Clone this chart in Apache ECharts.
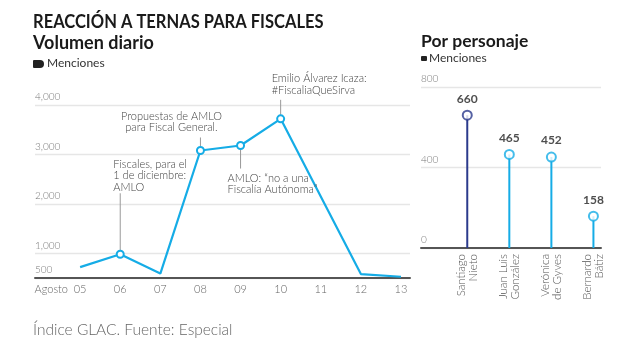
<!DOCTYPE html>
<html><head><meta charset="utf-8">
<script src="https://cdn.jsdelivr.net/npm/echarts@6/dist/echarts.min.js"></script>
<style>html,body{margin:0;padding:0;background:#fff}#c{width:622px;height:358px}</style>
</head><body><div id="c"></div>
<script>
// ---- data ----
const days = ['05','06','07','08','09','10','11','12','13'];
const volume = [720, 980, 590, 3080, 3180, 3720, 2150, 580, 525];
const markedDays = ['06','08','09','10'];
const notes = [
  'Fiscales, para el\n1 de diciembre:\nAMLO',
  'Propuestas de AMLO\npara Fiscal General.',
  'AMLO: “no a una\nFiscalía Autónoma”',
  'Emilio Álvarez Icaza:\n#FiscaliaQueSirva'
];
const people = ['Santiago\nNieto','Juan Luis\nGonzález','Verónica\nde Gyves','Bernardo\nBátiz'];
const mentions = [660, 465, 452, 158];

// ---- styles / layout ----
const CYAN = '#15ace6', NAVY = '#2b3a8c';
const LIGHT = 'Lato';
// note layout: leader length (px, negative = up), text offsets relative to the point
const noteLayout = [
  {lead: -61, dx: -7, dy: -96, align: 'left'},
  {lead: -13, dx: -29, dy: -40, align: 'center'},
  {lead: 23, dx: -13, dy: 27, align: 'left'},
  {lead: -19, dx: -9, dy: -46, align: 'left'}
];

const chart = echarts.init(document.getElementById('c'), null, {renderer: 'canvas'});

const lineData = volume.map((v, i) => {
  const marked = markedDays.includes(days[i]);
  return {value: [i, v], symbol: marked ? 'emptyCircle' : 'none'};
});

const option = {
  backgroundColor: '#fff',
  animation: false,
  textStyle: {fontFamily: LIGHT},
  grid: [
    {left: 35, right: 212, top: 105, bottom: 80},
    {left: 421, right: 21, top: 87, bottom: 110}
  ],
  xAxis: [
    {
      type: 'value', gridIndex: 0, min: -1.125, max: 8.225,
      axisLine: {show: true, lineStyle: {color: '#555', width: 2}},
      axisTick: {show: false}, splitLine: {show: false},
      axisLabel: {
        customValues: [-0.72, 0, 1, 2, 3, 4, 5, 6, 7, 8],
        formatter: v => v < 0 ? 'Agosto' : days[Math.round(v)],
        color: '#666', fontSize: 11, fontWeight: 300, fontFamily: LIGHT, margin: 6
      }
    },
    {
      type: 'value', gridIndex: 1, min: -1.1, max: 3.18,
      axisLine: {show: true, lineStyle: {color: '#555', width: 2}},
      axisTick: {show: false}, splitLine: {show: false},
      axisLabel: {
        customValues: [0, 1, 2, 3],
        formatter: v => people[Math.round(v)],
        rotate: 90, color: '#555', fontSize: 11.5, lineHeight: 12,
        fontWeight: 300, fontFamily: LIGHT, margin: 6
      }
    }
  ],
  yAxis: [
    {
      type: 'value', gridIndex: 0, min: 500, max: 4000, splitNumber: 4,
      axisLine: {show: false}, axisTick: {show: false},
      splitLine: {lineStyle: {color: '#e6e6e6', width: 1.3}},
      axisLabel: {
        inside: true, verticalAlign: 'bottom', margin: 0, padding: [0, 0, 3, 0],
        color: '#777', fontSize: 10, fontWeight: 300, fontFamily: LIGHT,
        formatter: v => v.toLocaleString('en-US')
      }
    },
    {
      type: 'value', gridIndex: 1, min: 0, max: 800, interval: 400,
      axisLine: {show: false}, axisTick: {show: false},
      splitLine: {lineStyle: {color: '#e6e6e6', width: 1.3}},
      axisLabel: {
        inside: true, verticalAlign: 'bottom', margin: 0, padding: [0, 0, 3, 0],
        color: '#777', fontSize: 10, fontWeight: 300, fontFamily: LIGHT
      }
    }
  ],
  series: [
    {
      type: 'line', xAxisIndex: 0, yAxisIndex: 0, data: lineData,
      symbolSize: 7, showAllSymbol: true,
      lineStyle: {color: CYAN, width: 2.2},
      itemStyle: {color: CYAN, borderWidth: 2}
    },
    {
      type: 'custom', xAxisIndex: 1, yAxisIndex: 1,
      data: mentions.map((v, i) => [i, v]),
      renderItem: (params, api) => {
        const x = api.value(0), y = api.value(1);
        const p0 = api.coord([x, 0]), p1 = api.coord([x, y]);
        return {type: 'line', shape: {x1: p0[0], y1: p0[1], x2: p1[0], y2: p1[1]},
          style: {stroke: params.dataIndex === 0 ? NAVY : CYAN, lineWidth: 2}};
      }
    },
    {
      type: 'scatter', xAxisIndex: 1, yAxisIndex: 1, z: 5,
      symbol: 'emptyCircle', symbolSize: 9,
      data: mentions.map((v, i) => ({value: [i, v], itemStyle: {color: i === 0 ? NAVY : CYAN, borderColor: i === 0 ? NAVY : CYAN}})),
      itemStyle: {borderWidth: 2},
      label: {show: true, position: 'top', distance: 5, formatter: p => p.value[1],
        color: '#222', fontSize: 12, fontWeight: 'bold', fontFamily: 'Lato'}
    }
  ],
  graphic: [
    {type: 'text', x: 33, y: 12, scaleX: 0.87, originX: 0,
      style: {text: 'REACCIÓN A TERNAS PARA FISCALES', font: 'bold 19px Lato', fill: '#1a1a1a', textVerticalAlign: 'top'}},
    {type: 'text', left: 33, top: 34, style: {text: 'Volumen diario', font: 'bold 18px Lato', fill: '#1a1a1a'}},
    {type: 'rect', left: 33, top: 60, shape: {width: 11, height: 8, r: [1, 4, 4, 1]}, style: {fill: '#222'}},
    {type: 'text', left: 47, top: 57, style: {text: 'Menciones', font: '12px Lato', fill: '#333'}},
    {type: 'text', left: 421, top: 32, style: {text: 'Por personaje', font: 'bold 17.5px Lato', fill: '#1a1a1a'}},
    {type: 'rect', left: 421, top: 56, shape: {width: 6, height: 5, r: 1}, style: {fill: '#222'}},
    {type: 'text', left: 429, top: 52, style: {text: 'Menciones', font: '12px Lato', fill: '#333'}},
    {type: 'text', left: 33, top: 322, style: {text: 'Índice GLAC. Fuente: Especial', font: '300 15.5px Lato', fill: '#666'}}
  ]
};
chart.setOption(option);

// annotations anchored to data points via the chart's own scale
const noteGraphics = [];
markedDays.forEach((d, k) => {
  const i = days.indexOf(d);
  const p = chart.convertToPixel({xAxisIndex: 0, yAxisIndex: 0}, [i, volume[i]]);
  const L = noteLayout[k];
  const yEdge = L.lead < 0 ? p[1] - 4 : p[1] + 4;
  noteGraphics.push({type: 'line', z: 1, shape: {x1: p[0], y1: yEdge, x2: p[0], y2: p[1] + L.lead},
    style: {stroke: '#999', lineWidth: 1}});
  noteGraphics.push({type: 'text', z: 10, x: p[0] + L.dx, y: p[1] + L.dy,
    style: {text: notes[k], font: '300 11px Lato', fill: '#444', lineHeight: 11.5,
      textAlign: L.align, textVerticalAlign: 'top'}});
});
chart.setOption({graphic: option.graphic.concat(noteGraphics)});
</script>
</body></html>
